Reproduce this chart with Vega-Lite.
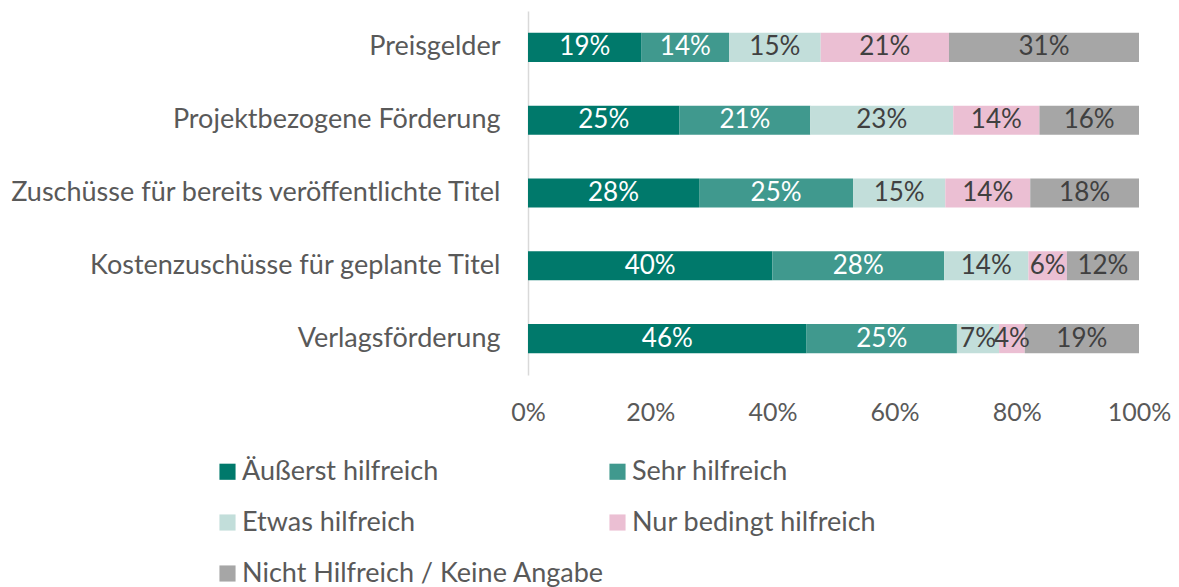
{
  "$schema": "https://vega.github.io/schema/vega-lite/v6.json",
  "autosize": {"type": "none"},
  "padding": {"left": 528, "top": 11, "right": 40, "bottom": 212},
  "width": 611,
  "height": 364,
  "background": "white",
  "config": {
    "font": "Lato",
    "view": {"stroke": null}
  },
  "data": {
    "values": [
      {"cat": "Preisgelder", "series": "Äußerst hilfreich", "o": 1, "v": 0.186},
      {"cat": "Preisgelder", "series": "Sehr hilfreich", "o": 2, "v": 0.143},
      {"cat": "Preisgelder", "series": "Etwas hilfreich", "o": 3, "v": 0.150},
      {"cat": "Preisgelder", "series": "Nur bedingt hilfreich", "o": 4, "v": 0.210},
      {"cat": "Preisgelder", "series": "Nicht Hilfreich / Keine Angabe", "o": 5, "v": 0.311},
      {"cat": "Projektbezogene Förderung", "series": "Äußerst hilfreich", "o": 1, "v": 0.248},
      {"cat": "Projektbezogene Förderung", "series": "Sehr hilfreich", "o": 2, "v": 0.214},
      {"cat": "Projektbezogene Förderung", "series": "Etwas hilfreich", "o": 3, "v": 0.234},
      {"cat": "Projektbezogene Förderung", "series": "Nur bedingt hilfreich", "o": 4, "v": 0.141},
      {"cat": "Projektbezogene Förderung", "series": "Nicht Hilfreich / Keine Angabe", "o": 5, "v": 0.163},
      {"cat": "Zuschüsse für bereits veröffentlichte Titel", "series": "Äußerst hilfreich", "o": 1, "v": 0.280},
      {"cat": "Zuschüsse für bereits veröffentlichte Titel", "series": "Sehr hilfreich", "o": 2, "v": 0.252},
      {"cat": "Zuschüsse für bereits veröffentlichte Titel", "series": "Etwas hilfreich", "o": 3, "v": 0.151},
      {"cat": "Zuschüsse für bereits veröffentlichte Titel", "series": "Nur bedingt hilfreich", "o": 4, "v": 0.139},
      {"cat": "Zuschüsse für bereits veröffentlichte Titel", "series": "Nicht Hilfreich / Keine Angabe", "o": 5, "v": 0.178},
      {"cat": "Kostenzuschüsse für geplante Titel", "series": "Äußerst hilfreich", "o": 1, "v": 0.400},
      {"cat": "Kostenzuschüsse für geplante Titel", "series": "Sehr hilfreich", "o": 2, "v": 0.281},
      {"cat": "Kostenzuschüsse für geplante Titel", "series": "Etwas hilfreich", "o": 3, "v": 0.138},
      {"cat": "Kostenzuschüsse für geplante Titel", "series": "Nur bedingt hilfreich", "o": 4, "v": 0.063},
      {"cat": "Kostenzuschüsse für geplante Titel", "series": "Nicht Hilfreich / Keine Angabe", "o": 5, "v": 0.118},
      {"cat": "Verlagsförderung", "series": "Äußerst hilfreich", "o": 1, "v": 0.456},
      {"cat": "Verlagsförderung", "series": "Sehr hilfreich", "o": 2, "v": 0.246},
      {"cat": "Verlagsförderung", "series": "Etwas hilfreich", "o": 3, "v": 0.069},
      {"cat": "Verlagsförderung", "series": "Nur bedingt hilfreich", "o": 4, "v": 0.042},
      {"cat": "Verlagsförderung", "series": "Nicht Hilfreich / Keine Angabe", "o": 5, "v": 0.187}
    ]
  },
  "transform": [
    {"stack": "v", "groupby": ["cat"], "sort": [{"field": "o", "order": "ascending"}], "as": ["v0", "v1"]},
    {"calculate": "(datum.v0 + datum.v1) / 2", "as": "mid"}
  ],
  "encoding": {
    "y": {
      "field": "cat",
      "type": "nominal",
      "sort": ["Preisgelder", "Projektbezogene Förderung", "Zuschüsse für bereits veröffentlichte Titel", "Kostenzuschüsse für geplante Titel", "Verlagsförderung"],
      "scale": {"paddingInner": 0.6, "paddingOuter": 0.3},
      "axis": {
        "title": null,
        "ticks": false,
        "domainColor": "#D9D9D9",
        "domainWidth": 1.5,
        "labelFontSize": 27,
        "labelColor": "#595959",
        "labelPadding": 28,
        "labelLimit": 600
      }
    }
  },
  "layer": [
    {
      "mark": {"type": "bar"},
      "encoding": {
        "x": {
          "field": "v0",
          "type": "quantitative",
          "scale": {"domain": [0, 1], "nice": false},
          "axis": {
            "title": null,
            "values": [0, 0.2, 0.4, 0.6, 0.8, 1],
            "format": ".0%",
            "grid": false,
            "ticks": false,
            "domain": false,
            "labelFontSize": 25,
            "labelColor": "#595959",
            "labelPadding": 25,
            "labelFlush": false
          }
        },
        "x2": {"field": "v1"},
        "color": {
          "field": "series",
          "type": "nominal",
          "scale": {
            "domain": ["Äußerst hilfreich", "Sehr hilfreich", "Etwas hilfreich", "Nur bedingt hilfreich", "Nicht Hilfreich / Keine Angabe"],
            "range": ["#00796B", "#40998E", "#C2DEDA", "#EBBFD3", "#A6A6A6"]
          },
          "legend": {
            "title": null,
            "orient": "none",
            "direction": "horizontal",
            "legendX": -314,
            "legendY": 447,
            "columns": 2,
            "columnPadding": 0,
            "rowPadding": 23,
            "symbolType": "square",
            "symbolSize": 260,
            "symbolStrokeWidth": 0,
            "symbolOpacity": 1,
            "labelFontSize": 27,
            "labelColor": "#595959",
            "labelOffset": 1,
            "labelLimit": 600
          }
        }
      }
    },
    {
      "mark": {"type": "text", "fontSize": 26, "align": "center", "baseline": "middle"},
      "encoding": {
        "x": {"field": "mid", "type": "quantitative"},
        "text": {"field": "v", "type": "quantitative", "format": ".0%"},
        "color": {
          "condition": {"test": "datum.o <= 2", "value": "white"},
          "value": "#404040"
        }
      }
    }
  ]
}
